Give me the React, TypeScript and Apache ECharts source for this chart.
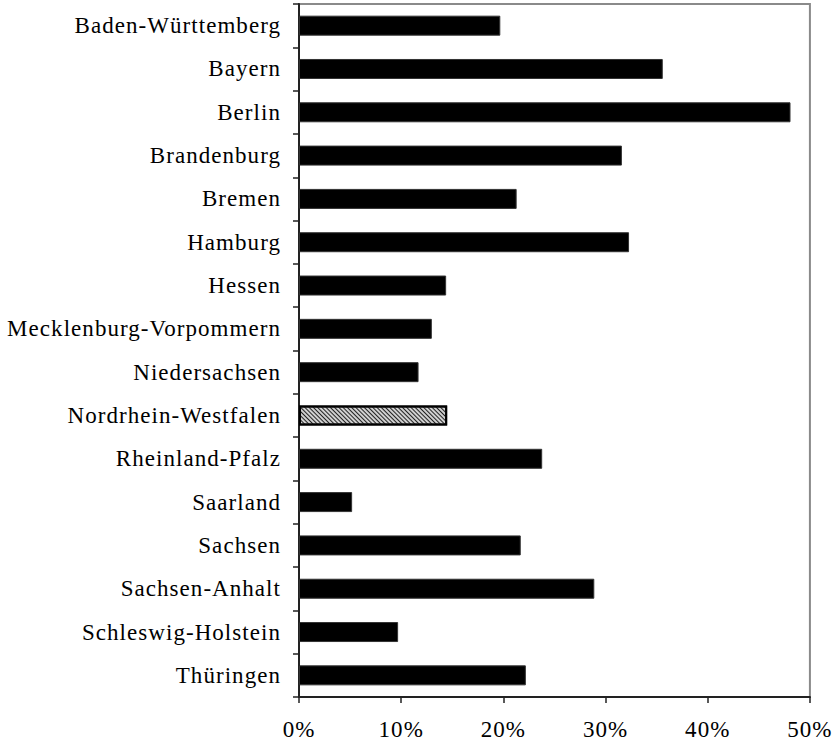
import React, { useEffect, useRef } from "react";
import * as echarts from "echarts";

const states: string[] = [
  "Baden-Württemberg",
  "Bayern",
  "Berlin",
  "Brandenburg",
  "Bremen",
  "Hamburg",
  "Hessen",
  "Mecklenburg-Vorpommern",
  "Niedersachsen",
  "Nordrhein-Westfalen",
  "Rheinland-Pfalz",
  "Saarland",
  "Sachsen",
  "Sachsen-Anhalt",
  "Schleswig-Holstein",
  "Thüringen",
];

const values: number[] = [
  19.7, 35.6, 48.1, 31.6, 21.3, 32.3, 14.4, 13.0, 11.7, 14.5, 23.8, 5.2, 21.7, 28.9, 9.7, 22.2,
];

const highlighted = "Nordrhein-Westfalen";

const xTicks = { min: 0, max: 50, interval: 10 };

export default function App() {
  const ref = useRef<HTMLDivElement>(null);

  useEffect(() => {
    if (!ref.current) return;
    const chart = echarts.init(ref.current, undefined, { renderer: "svg" });
    const font = "'Liberation Serif', 'Times New Roman', serif";
    const data = values.map((v, i) =>
      states[i] === highlighted
        ? {
            value: v,
            itemStyle: {
              color: "#d0d0d0",
              borderColor: "#000",
              borderWidth: 2,
              decal: {
                symbol: "rect",
                symbolSize: 1,
                dashArrayX: [1, 0],
                dashArrayY: [1, 2],
                rotation: Math.PI / 4,
                color: "#222",
                backgroundColor: "#d8d8d8",
              },
            },
          }
        : v
    );
    chart.setOption({
      animation: false,
      grid: {
        left: 299,
        right: 23,
        top: 4,
        bottom: 44,
        show: true,
        borderColor: "#8a8a8a",
        borderWidth: 2,
      },
      xAxis: {
        type: "value",
        min: xTicks.min,
        max: xTicks.max,
        interval: xTicks.interval,
        axisLine: { show: true, lineStyle: { color: "#222", width: 2 } },
        axisTick: { show: true, length: 6, lineStyle: { color: "#222", width: 1.5 } },
        splitLine: { show: false },
        axisLabel: {
          formatter: (v: number) => `${v}%`,
          fontFamily: font,
          fontSize: 23,
          color: "#000",
          margin: 21,
        },
      },
      yAxis: {
        type: "category",
        data: states,
        inverse: true,
        axisLine: { show: true, lineStyle: { color: "#222", width: 2 } },
        axisTick: { show: true, length: 6, lineStyle: { color: "#222", width: 1.5 } },
        splitLine: { show: false },
        axisLabel: {
          fontFamily: font,
          fontSize: 23,
          color: "#000",
          margin: 18,
        },
      },
      series: [
        {
          type: "bar",
          data,
          barWidth: 20,
          itemStyle: { color: "#000", borderColor: "#333", borderWidth: 1 },
        },
      ],
    });
    const zr: any = chart.getZr();
    if (zr && typeof zr.flush === "function") zr.flush();
    ref.current.querySelectorAll("text").forEach((t) => {
      (t as SVGTextElement).style.letterSpacing = "1.05px";
    });
    return () => chart.dispose();
  }, []);

  return (
    <div
      ref={ref}
      style={{ position: "absolute", left: 0, top: 0, width: 834, height: 741, background: "#fff" }}
    />
  );
}
